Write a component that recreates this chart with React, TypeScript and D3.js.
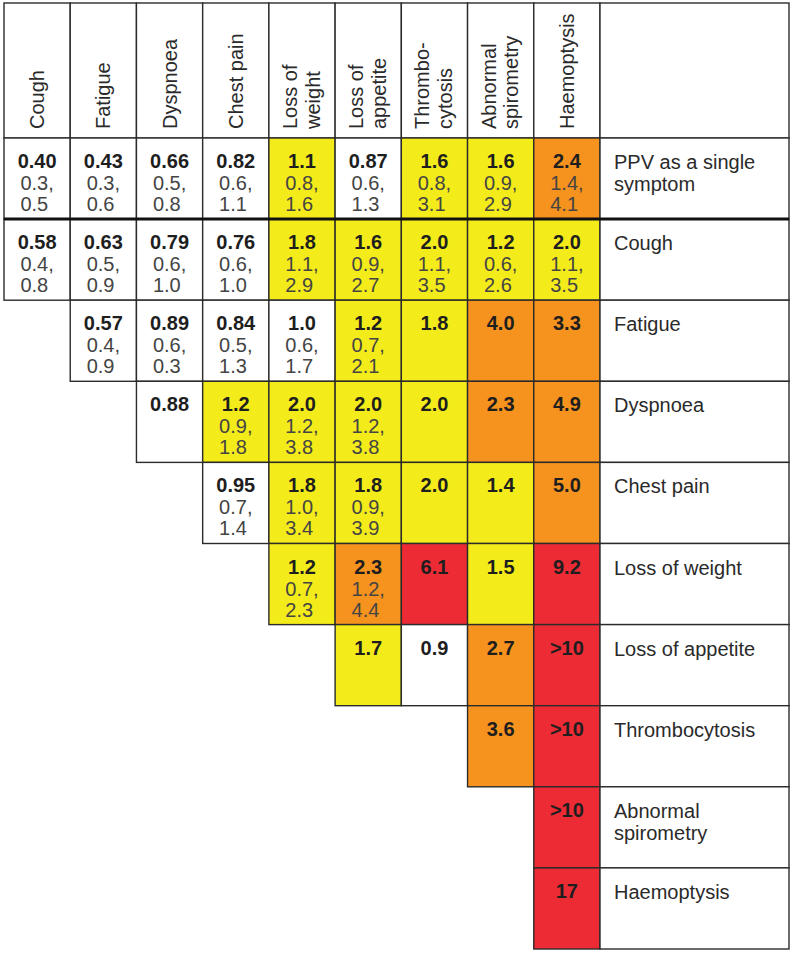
import React from 'react';
import * as d3 from 'd3';

const headerLabels: string[][] = [
  ['Cough'], ['Fatigue'], ['Dyspnoea'], ['Chest pain'], ['Loss of', 'weight'],
  ['Loss of', 'appetite'], ['Thrombo-', 'cytosis'], ['Abnormal', 'spirometry'], ['Haemoptysis'],
];

const rowLabels: string[][] = [
  ['PPV as a single', 'symptom'], ['Cough'], ['Fatigue'], ['Dyspnoea'], ['Chest pain'],
  ['Loss of weight'], ['Loss of appetite'], ['Thrombocytosis'], ['Abnormal', 'spirometry'], ['Haemoptysis'],
];

// first column index of each row (lower-triangle layout)
const rowStart = [0, 0, 1, 2, 3, 4, 5, 7, 8, 8];

const ppvValues = ['0.40', '0.43', '0.66', '0.82', '1.1', '0.87', '1.6', '1.6', '2.4'];
const ppvLow = ['0.3', '0.3', '0.5', '0.6', '0.8', '0.6', '0.8', '0.9', '1.4'];
const ppvHigh = ['0.5', '0.6', '0.8', '1.1', '1.6', '1.3', '3.1', '2.9', '4.1'];

const coughValues = ['0.58', '0.63', '0.79', '0.76', '1.8', '1.6', '2.0', '1.2', '2.0'];
const coughLow = ['0.4', '0.5', '0.6', '0.6', '1.1', '0.9', '1.1', '0.6', '1.1'];
const coughHigh = ['0.8', '0.9', '1.0', '1.0', '2.9', '2.7', '3.5', '2.6', '3.5'];

const fatigueValues = ['0.57', '0.89', '0.84', '1.0', '1.2', '1.8', '4.0', '3.3'];
const fatigueLow = ['0.4', '0.6', '0.5', '0.6', '0.7'];
const fatigueHigh = ['0.9', '0.3', '1.3', '1.7', '2.1'];

const dyspnoeaValues = ['0.88', '1.2', '2.0', '2.0', '2.0', '2.3', '4.9'];
const dyspnoeaLow = ['', '0.9', '1.2', '1.2'];
const dyspnoeaHigh = ['', '1.8', '3.8', '3.8'];

const chestValues = ['0.95', '1.8', '1.8', '2.0', '1.4', '5.0'];
const chestLow = ['0.7', '1.0', '0.9'];
const chestHigh = ['1.4', '3.4', '3.9'];

const weightValues = ['1.2', '2.3', '6.1', '1.5', '9.2'];
const weightLow = ['0.7', '1.2'];
const weightHigh = ['2.3', '4.4'];

const appetiteValues = ['1.7', '0.9', '2.7', '>10'];
const thromboValues = ['3.6', '>10'];
const spiroValues = ['>10'];
const haemoValues = ['17'];

const rowValues = [ppvValues, coughValues, fatigueValues, dyspnoeaValues, chestValues, weightValues, appetiteValues, thromboValues, spiroValues, haemoValues];
const rowLows = [ppvLow, coughLow, fatigueLow, dyspnoeaLow, chestLow, weightLow, [], [], [], []];
const rowHighs = [ppvHigh, coughHigh, fatigueHigh, dyspnoeaHigh, chestHigh, weightHigh, [], [], [], []];

const colorThresholds = [1.05, 2.05, 5.05];
const colorRange = ['#ffffff', '#f4eb1a', '#f6921e', '#ec2b35'];

const FONT = '"Liberation Sans", Arial, Helvetica, sans-serif';

function num(s: string): number {
  return s.startsWith('>') ? parseFloat(s.slice(1)) + 1 : parseFloat(s);
}

function textWidth(s: string, fs: number): number {
  let w = 0;
  for (const ch of s) w += (ch === '.' || ch === ',') ? 0.278 : 0.556;
  return w * fs;
}

export default function App() {
  const W = 793, H = 955;
  const x = d3.scaleBand<number>().domain(d3.range(9)).range([4, 600]);
  const y = d3.scaleBand<number>().domain(d3.range(10)).range([138, 949]);
  const labelX0 = 600, labelX1 = 789;
  const headerTop = 3, headerBottom = 138;
  const color = d3.scaleThreshold<number, string>().domain(colorThresholds).range(colorRange);
  const bw = x.bandwidth();
  const bh = y.bandwidth();
  const stroke = '#2b2b2b';
  const sw = 1.4;
  const valFs = 20;
  const ciFs = 20;

  const cells: JSX.Element[] = [];
  const texts: JSX.Element[] = [];
  rowValues.forEach((vals, r) => {
    vals.forEach((v, i) => {
      const c = rowStart[r] + i;
      const x0 = x(c)!, y0 = y(r)!;
      const cx = x0 + bw / 2;
      cells.push(
        <rect key={`c${r}-${c}`} x={x0} y={y0} width={bw} height={bh} fill={color(num(v))} stroke={stroke} strokeWidth={sw} />
      );
      texts.push(
        <text key={`v${r}-${c}`} x={cx} y={y0 + 30} textAnchor="middle" fontSize={valFs} fontWeight="bold" fill="#1e1e1e" fontFamily={FONT}>{v}</text>
      );
      const lo = rowLows[r][i];
      const hi = rowHighs[r][i];
      if (lo && hi) {
        const l1 = `${lo},`;
        const sx = cx - textWidth(l1, ciFs) / 2;
        texts.push(
          <text key={`l${r}-${c}`} x={sx} y={y0 + 52} fontSize={ciFs} fill="#444" fontFamily={FONT}>{l1}</text>
        );
        texts.push(
          <text key={`h${r}-${c}`} x={sx} y={y0 + 73} fontSize={ciFs} fill="#444" fontFamily={FONT}>{hi}</text>
        );
      }
    });
    // label cell
    cells.push(
      <rect key={`lab${r}`} x={labelX0} y={y(r)!} width={labelX1 - labelX0} height={bh} fill="#fff" stroke={stroke} strokeWidth={sw} />
    );
    rowLabels[r].forEach((t, k) => {
      texts.push(
        <text key={`lt${r}-${k}`} x={614} y={y(r)! + 31 + k * 22} fontSize={20} fill="#2a2a2a" fontFamily={FONT}>{t}</text>
      );
    });
  });

  const headers: JSX.Element[] = [];
  headerLabels.forEach((lines, c) => {
    const x0 = x(c)!;
    const cx = x0 + bw / 2;
    headers.push(
      <rect key={`hd${c}`} x={x0} y={headerTop} width={bw} height={headerBottom - headerTop} fill="#fff" stroke={stroke} strokeWidth={sw} />
    );
    const offs = lines.length === 1 ? [7] : [-5, 17.5];
    lines.forEach((t, k) => {
      headers.push(
        <text key={`ht${c}-${k}`} transform={`translate(${cx + offs[k]},129) rotate(-90)`} fontSize={20} fill="#2a2a2a" fontFamily={FONT}>{t}</text>
      );
    });
  });
  headers.push(
    <rect key="hdlab" x={labelX0} y={headerTop} width={labelX1 - labelX0} height={headerBottom - headerTop} fill="#fff" stroke={stroke} strokeWidth={sw} />
  );

  return (
    <svg width={W} height={H} style={{ position: 'absolute', left: 0, top: 0, background: '#fff' }}>
      <rect x={0} y={0} width={W} height={H} fill="#fff" />
      {headers}
      {cells}
      <line x1={4} x2={labelX1} y1={y(1)!} y2={y(1)!} stroke="#111" strokeWidth={3} />
      {texts}
    </svg>
  );
}
